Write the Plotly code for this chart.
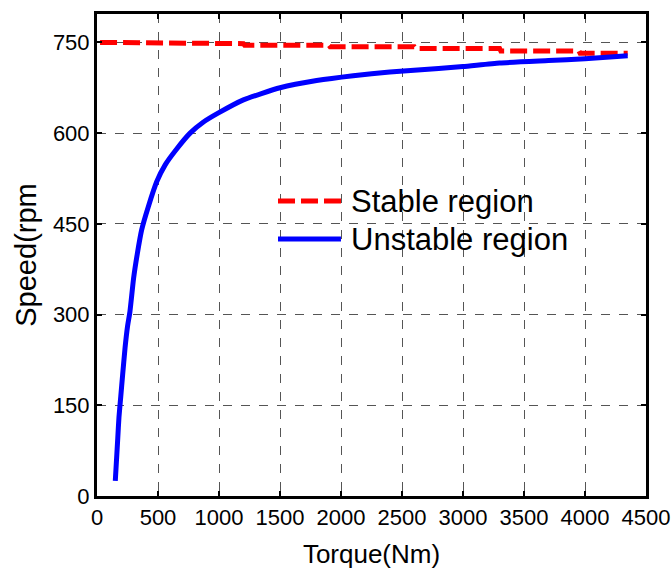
import plotly.graph_objects as go

# Stable region (red dashed)
stable_torque = [25, 500, 510, 1200, 1210, 1900, 1910, 2600, 2610, 3300, 3310, 3950, 3960, 4350]
stable_speed = [750, 750, 748, 748, 745.5, 745.5, 743, 743, 740, 740, 736, 736, 732, 732]

# Unstable region (blue solid)
unstable_torque = [150, 160, 170, 180, 195, 210, 230, 250, 270, 300, 330, 366, 420, 490, 560, 650, 763,
                   870, 992, 1200, 1500, 1800, 2100, 2400, 2800, 3000, 3300, 3700, 4000, 4350]
unstable_speed = [25, 60, 95, 130, 165, 200, 245, 280, 305, 360, 400, 440, 478, 520, 548, 573, 600,
                  618, 633, 655, 675, 687, 695, 701, 707, 710, 716, 720, 723, 728]

x_ticks = [0, 500, 1000, 1500, 2000, 2500, 3000, 3500, 4000, 4500]
y_ticks = [0, 150, 300, 450, 600, 750]
legend_names = ["Stable region", "Unstable region"]

FONT = "Liberation Sans, Arial, sans-serif"

fig = go.Figure()
fig.add_trace(go.Scatter(x=stable_torque, y=stable_speed, mode="lines", name=legend_names[0],
                         line=dict(color="#ff0000", width=5, dash="17px,6px"), showlegend=False))
fig.add_trace(go.Scatter(x=unstable_torque, y=unstable_speed, mode="lines", name=legend_names[1],
                         line=dict(color="#0000ff", width=5, shape="spline", smoothing=0.5),
                         showlegend=False))

axis_common = dict(
    showline=True, linecolor="black", linewidth=3, mirror="allticks",
    ticks="inside", ticklen=5, tickwidth=2, tickcolor="black",
    showgrid=True, gridcolor="#555555", gridwidth=1, griddash="dash",
    zeroline=False, tickfont=dict(family=FONT, size=22, color="black"),
    automargin=False,
)

fig.update_xaxes(range=[0, 4500], tickvals=x_ticks, ticktext=[str(v) for v in x_ticks],
                 title=dict(text="Torque(Nm)", font=dict(family=FONT, size=26, color="black"), standoff=16),
                 **axis_common)
fig.update_yaxes(range=[0, 797], tickvals=y_ticks, ticktext=[str(v) for v in y_ticks],
                 title=dict(text="Speed(rpm", font=dict(family=FONT, size=29, color="black"), standoff=8),
                 **axis_common)

# Manual legend (sample lines + labels), positioned in paper coordinates
leg_x0, leg_x1, leg_tx = 0.3297, 0.4444, 0.459
leg_y = [0.612, 0.533]
leg_styles = [dict(color="#ff0000", width=5, dash="17px,6px"), dict(color="#0000ff", width=5)]
for name, yy, st in zip(legend_names, leg_y, leg_styles):
    fig.add_shape(type="line", xref="paper", yref="paper", x0=leg_x0, x1=leg_x1, y0=yy, y1=yy, line=st)
    fig.add_annotation(xref="paper", yref="paper", x=leg_tx, y=yy, text=name, showarrow=False,
                       xanchor="left", yanchor="middle",
                       font=dict(family=FONT, size=31, color="black"))

fig.update_layout(
    width=672, height=579,
    margin=dict(l=97, r=26, t=14, b=83),
    paper_bgcolor="white", plot_bgcolor="white",
    showlegend=False,
)

fig.write_html("out.html")
